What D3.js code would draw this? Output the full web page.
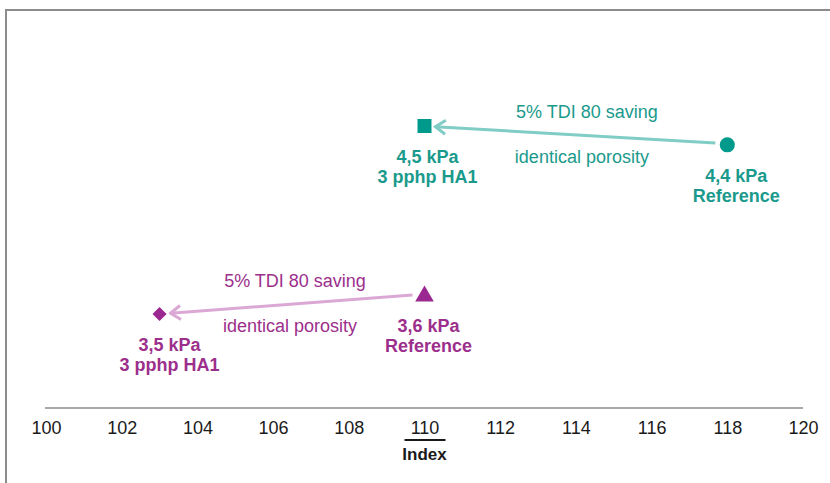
<!DOCTYPE html>
<html>
<head>
<meta charset="utf-8">
<script src="https://cdn.jsdelivr.net/npm/d3@7"></script>
<style>
  body { margin: 0; background: #fff; }
  svg { font-family: "Liberation Sans", Arial, sans-serif; display: block; }
</style>
</head>
<body>
<div id="chart"></div>
<script>
// data
const pointNames = ["HA1 high", "Reference high", "Reference low", "HA1 low"];
const pointIndex = [110, 118, 110, 103];
const pointKpa = [4.5, 4.4, 3.6, 3.5];
const pointShapes = ["square", "circle", "triangle", "diamond"];
const pointGroup = ["teal", "teal", "purple", "purple"];
const pointLabel1 = ["4,5 kPa", "4,4 kPa", "3,6 kPa", "3,5 kPa"];
const pointLabel2 = ["3 pphp HA1", "Reference", "Reference", "3 pphp HA1"];

// arrows go from reference to HA1 (index into points)
const arrowFrom = [1, 2];
const arrowTo = [0, 3];
const arrowTop = ["5% TDI 80 saving", "5% TDI 80 saving"];
const arrowBottom = ["identical porosity", "identical porosity"];

const xTicks = [100, 102, 104, 106, 108, 110, 112, 114, 116, 118, 120];
const axisTitle = "Index";

const width = 830, height = 483;
const colors = {
  teal: { mark: "#009a8c", text: "#1a9a8c", line: "#80cdc5" },
  purple: { mark: "#9b2890", text: "#9c2f8c", line: "#dba8d6" }
};
// label nudges (style only)
const labelDx = { square: 3, circle: 9, triangle: 4, diamond: 10 };
const arrowTextDx = [11, 3];

const svg = d3.select("#chart").append("svg")
  .attr("width", width).attr("height", height);

// frame
svg.append("path")
  .attr("d", `M6,${height} V10 H${width}`)
  .attr("fill", "none")
  .attr("stroke", "#8c8c8c")
  .attr("stroke-width", 2);

const x = d3.scaleLinear().domain([100, 120]).range([46, 803]);
const y = d3.scaleLinear().domain([3, 5]).range([408, 32]);

// x axis
const xAxis = svg.append("g")
  .attr("transform", `translate(0, ${y(3)})`)
  .call(d3.axisBottom(x).tickValues(xTicks).tickSize(0).tickPadding(13));
xAxis.select(".domain").attr("stroke", "#8c8c8c").attr("stroke-width", 1.3)
  .attr("d", `M45,0H803`);
xAxis.selectAll(".tick text")
  .attr("font-size", 18)
  .attr("font-family", "Liberation Sans, Arial, sans-serif")
  .attr("fill", "#1a1a1a");

svg.append("line")
  .attr("x1", x(110) - 20).attr("x2", x(110) + 21)
  .attr("y1", 440).attr("y2", 440)
  .attr("stroke", "#1a1a1a").attr("stroke-width", 2);
svg.append("text")
  .attr("x", x(110)).attr("y", 460)
  .attr("text-anchor", "middle")
  .attr("font-size", 17).attr("font-weight", "bold")
  .attr("fill", "#1a1a1a")
  .text(axisTitle);

// arrows
const defs = svg.append("defs");
Object.keys(colors).forEach(k => {
  defs.append("marker")
    .attr("id", "head-" + k)
    .attr("viewBox", "0 0 14 18")
    .attr("refX", 12).attr("refY", 9)
    .attr("markerWidth", 14).attr("markerHeight", 18)
    .attr("markerUnits", "userSpaceOnUse")
    .attr("orient", "auto")
    .append("path")
    .attr("d", "M2,2 L12,9 L2,16")
    .attr("fill", "none")
    .attr("stroke", colors[k].line)
    .attr("stroke-width", 3);
});

arrowFrom.forEach((f, i) => {
  const t = arrowTo[i];
  const g = pointGroup[f];
  const x1 = x(pointIndex[f]), y1 = y(pointKpa[f]);
  const x2 = x(pointIndex[t]), y2 = y(pointKpa[t]);
  const ang = Math.atan2(y2 - y1, x2 - x1);
  const sx = x1 + Math.cos(ang) * 12, sy = y1 + Math.sin(ang) * 12 - 1;
  const ex = x2 - Math.cos(ang) * 11, ey = y2 - Math.sin(ang) * 11;
  svg.append("line")
    .attr("x1", sx).attr("y1", sy).attr("x2", ex).attr("y2", ey)
    .attr("stroke", colors[g].line)
    .attr("stroke-width", 3)
    .attr("marker-end", `url(#head-${g})`);
  const mx = (x1 + x2) / 2 + arrowTextDx[i], my = (sy + ey) / 2;
  svg.append("text")
    .attr("x", mx).attr("y", my - 22)
    .attr("text-anchor", "middle").attr("dominant-baseline", "middle")
    .attr("font-size", 18).attr("fill", colors[g].text)
    .text(arrowTop[i]);
  svg.append("text")
    .attr("x", mx - 5).attr("y", my + 23)
    .attr("text-anchor", "middle").attr("dominant-baseline", "middle")
    .attr("font-size", 18).attr("fill", colors[g].text)
    .text(arrowBottom[i]);
});

// points
const symbolType = {
  square: d3.symbolSquare,
  circle: d3.symbolCircle,
  triangle: d3.symbolTriangle,
  diamond: d3.symbolSquare
};
const symbolSize = { square: 196, circle: 180, triangle: 150, diamond: 100 };

const pts = svg.selectAll("g.pt")
  .data(pointNames.map((n, i) => ({
    name: n, idx: pointIndex[i], kpa: pointKpa[i], shape: pointShapes[i],
    group: pointGroup[i], l1: pointLabel1[i], l2: pointLabel2[i]
  })))
  .join("g")
  .attr("class", "pt")
  .attr("transform", d => `translate(${x(d.idx)}, ${y(d.kpa)})`);

pts.append("path")
  .attr("d", d => d3.symbol(symbolType[d.shape], symbolSize[d.shape])())
  .attr("transform", d => d.shape === "triangle" ? "translate(0,1)"
    : d.shape === "diamond" ? "rotate(45)" : null)
  .attr("fill", d => colors[d.group].mark);

pts.append("text")
  .attr("x", d => labelDx[d.shape]).attr("y", 32)
  .attr("text-anchor", "middle").attr("dominant-baseline", "middle")
  .attr("font-size", 18).attr("font-weight", "bold")
  .attr("fill", d => colors[d.group].text)
  .text(d => d.l1);
pts.append("text")
  .attr("x", d => labelDx[d.shape]).attr("y", 52)
  .attr("text-anchor", "middle").attr("dominant-baseline", "middle")
  .attr("font-size", 18).attr("font-weight", "bold")
  .attr("fill", d => colors[d.group].text)
  .text(d => d.l2);
</script>
</body>
</html>
